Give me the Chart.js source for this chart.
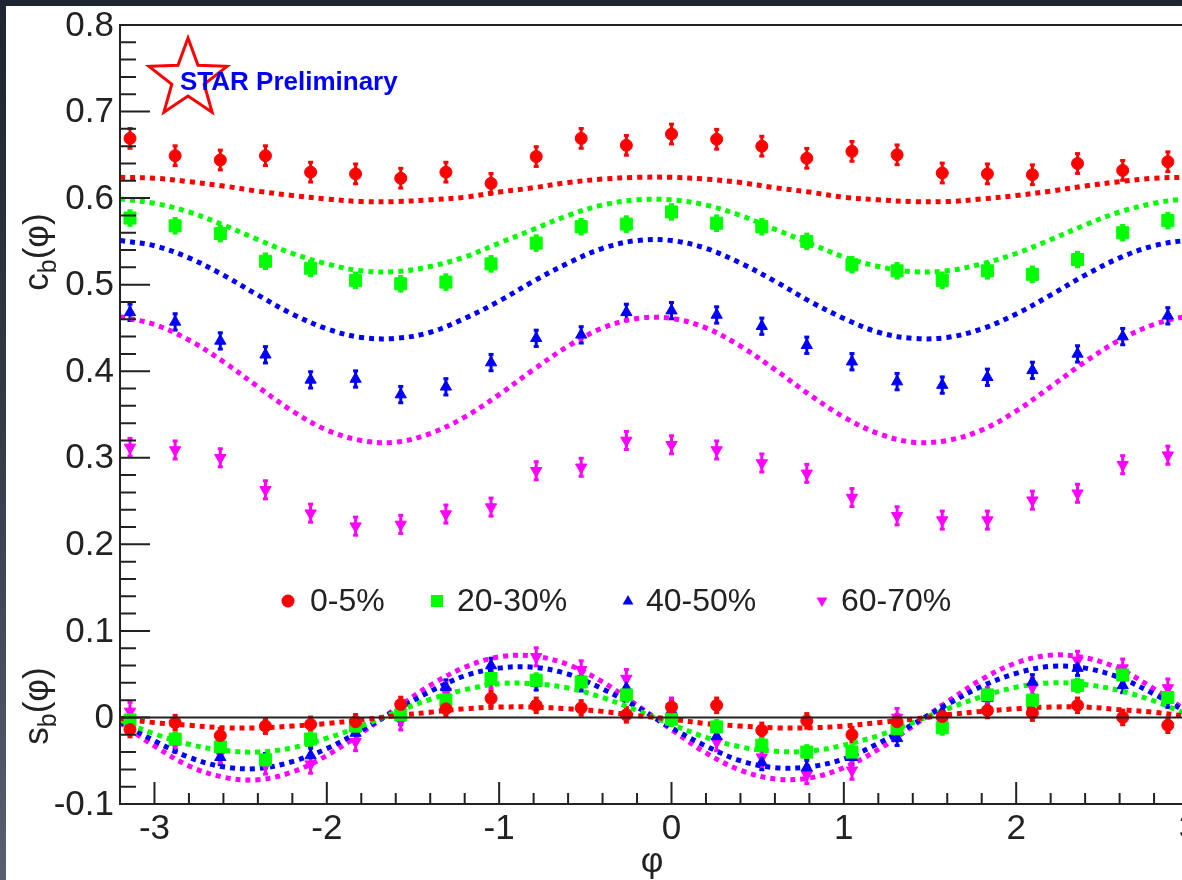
<!DOCTYPE html>
<html>
<head>
<meta charset="utf-8">
<script src="https://cdn.jsdelivr.net/npm/chart.js@4.4.1/dist/chart.umd.min.js"></script>
<style>
  html, body { margin: 0; padding: 0; width: 1182px; height: 880px; overflow: hidden; }
  body { background: linear-gradient(180deg, #1d2532 0%, #343c4a 50%, #586070 100%); }
  #box { position: absolute; left: 6px; top: 6px; width: 1240px; height: 874px; background: #fff; }
</style>
</head>
<body>
<div id="box"><canvas id="chart" width="1240" height="874"></canvas></div>
<script>
// measured points, phi bins of pi/12
var phi = [-3.142, -2.880, -2.618, -2.356, -2.094, -1.833, -1.571, -1.309, -1.047, -0.785, -0.524, -0.262,
           0.000, 0.262, 0.524, 0.785, 1.047, 1.309, 1.571, 1.833, 2.094, 2.356, 2.618, 2.880];

var cb05   = [0.669, 0.649, 0.644, 0.649, 0.630, 0.628, 0.623, 0.630, 0.617, 0.648, 0.669, 0.661,
              0.674, 0.668, 0.660, 0.646, 0.654, 0.650, 0.629, 0.628, 0.627, 0.640, 0.632, 0.642];
var cb2030 = [0.577, 0.568, 0.559, 0.527, 0.519, 0.505, 0.501, 0.503, 0.524, 0.548, 0.567, 0.570,
              0.584, 0.571, 0.567, 0.550, 0.523, 0.516, 0.505, 0.516, 0.512, 0.529, 0.560, 0.574];
var cb4050 = [0.468, 0.457, 0.435, 0.419, 0.390, 0.391, 0.373, 0.382, 0.410, 0.438, 0.442, 0.468,
              0.470, 0.465, 0.452, 0.430, 0.411, 0.388, 0.384, 0.393, 0.401, 0.420, 0.440, 0.464];
var cb6070 = [0.312, 0.309, 0.300, 0.263, 0.236, 0.221, 0.223, 0.235, 0.243, 0.285, 0.289, 0.320,
              0.315, 0.309, 0.294, 0.282, 0.254, 0.233, 0.228, 0.228, 0.251, 0.259, 0.292, 0.303];

var sb05   = [-0.014, -0.006, -0.021, -0.010, -0.008, -0.005, 0.015, 0.010, 0.022, 0.014, 0.011, 0.003,
              0.012, 0.014, -0.015, -0.004, -0.020, -0.005, 0.001, 0.008, 0.005, 0.014, 0.000, -0.009];
var sb2030 = [-0.003, -0.025, -0.034, -0.049, -0.025, -0.010, 0.003, 0.020, 0.045, 0.043, 0.041, 0.026,
              -0.002, -0.011, -0.032, -0.040, -0.040, -0.013, -0.012, 0.026, 0.020, 0.037, 0.049, 0.023];
var sb4050 = [-0.006, -0.028, -0.046, -0.050, -0.044, -0.018, 0.000, 0.035, 0.060, 0.040, 0.039, 0.034,
              0.008, -0.022, -0.052, -0.058, -0.046, -0.024, 0.006, 0.022, 0.041, 0.057, 0.037, 0.020];
var sb6070 = [0.007, -0.030, -0.042, -0.055, -0.054, -0.028, -0.004, 0.030, 0.044, 0.070, 0.055, 0.045,
              0.012, -0.028, -0.046, -0.066, -0.061, 0.000, -0.006, 0.024, 0.035, 0.066, 0.057, 0.034];

// error sizes per centrality
var errCb = [0.012, 0.009, 0.010, 0.011];
var errSb = [0.009, 0.008, 0.009, 0.011];

// fit curves
var fitPhi = [-3.2, -3.0, -2.8, -2.6, -2.4, -2.2, -2.0, -1.8, -1.6, -1.4, -1.2, -1.0, -0.8, -0.6, -0.4, -0.2,
              0.0, 0.2, 0.4, 0.6, 0.8, 1.0, 1.2, 1.4, 1.6, 1.8, 2.0, 2.2, 2.4, 2.6, 2.8, 3.0, 3.2];

var fitC05   = [0.624, 0.623, 0.619, 0.614, 0.608, 0.603, 0.599, 0.596, 0.596, 0.598, 0.601, 0.607, 0.612, 0.618, 0.622, 0.624,
                0.624, 0.622, 0.618, 0.612, 0.607, 0.601, 0.598, 0.596, 0.596, 0.599, 0.603, 0.608, 0.614, 0.619, 0.623, 0.624, 0.624];
var fitC2030 = [0.599, 0.594, 0.584, 0.569, 0.552, 0.536, 0.524, 0.516, 0.515, 0.521, 0.532, 0.548, 0.564, 0.580, 0.592, 0.598,
                0.598, 0.592, 0.580, 0.564, 0.548, 0.532, 0.521, 0.515, 0.516, 0.524, 0.536, 0.552, 0.569, 0.584, 0.594, 0.599, 0.597];
var fitC4050 = [0.551, 0.545, 0.531, 0.511, 0.488, 0.466, 0.449, 0.439, 0.438, 0.445, 0.461, 0.481, 0.504, 0.525, 0.542, 0.551,
                0.551, 0.542, 0.525, 0.504, 0.481, 0.461, 0.445, 0.438, 0.439, 0.449, 0.466, 0.488, 0.511, 0.531, 0.545, 0.551, 0.549];
var fitC6070 = [0.463, 0.454, 0.436, 0.411, 0.382, 0.354, 0.332, 0.320, 0.318, 0.328, 0.347, 0.373, 0.402, 0.429, 0.450, 0.461,
                0.461, 0.450, 0.429, 0.402, 0.373, 0.347, 0.328, 0.318, 0.320, 0.332, 0.354, 0.382, 0.411, 0.436, 0.454, 0.463, 0.459];

var fitS05   = [-0.001, -0.006, -0.009, -0.012, -0.012, -0.010, -0.007, -0.003, 0.002, 0.006, 0.010, 0.012, 0.012, 0.010, 0.007, 0.002,
                -0.002, -0.007, -0.010, -0.012, -0.012, -0.010, -0.006, -0.002, 0.003, 0.007, 0.010, 0.012, 0.012, 0.009, 0.006, 0.001, -0.004];
var fitS2030 = [-0.003, -0.019, -0.031, -0.038, -0.040, -0.035, -0.024, -0.010, 0.006, 0.021, 0.032, 0.039, 0.039, 0.034, 0.023, 0.008,
                -0.008, -0.023, -0.034, -0.039, -0.039, -0.032, -0.021, -0.006, 0.010, 0.024, 0.035, 0.040, 0.038, 0.031, 0.019, 0.003, -0.012];
var fitS4050 = [-0.005, -0.027, -0.046, -0.057, -0.059, -0.051, -0.036, -0.015, 0.008, 0.030, 0.048, 0.057, 0.058, 0.050, 0.033, 0.012,
                -0.012, -0.033, -0.050, -0.058, -0.057, -0.048, -0.030, -0.008, 0.015, 0.036, 0.051, 0.059, 0.057, 0.046, 0.027, 0.005, -0.018];
var fitS6070 = [-0.006, -0.033, -0.056, -0.069, -0.072, -0.063, -0.044, -0.018, 0.010, 0.037, 0.058, 0.070, 0.071, 0.061, 0.041, 0.014,
                -0.014, -0.041, -0.061, -0.071, -0.070, -0.058, -0.037, -0.010, 0.018, 0.044, 0.063, 0.072, 0.069, 0.056, 0.033, 0.006, -0.022];

var yTicks = [-0.1, 0, 0.1, 0.2, 0.3, 0.4, 0.5, 0.6, 0.7, 0.8];
var yTickLabels = ['-0.1', '0', '0.1', '0.2', '0.3', '0.4', '0.5', '0.6', '0.7', '0.8'];
var xTicks = [-3, -2, -1, 0, 1, 2, 3];
var xTickLabels = ['-3', '-2', '-1', '0', '1', '2', '3'];

var legendLabels = ['0-5%', '20-30%', '40-50%', '60-70%'];
var colors = ['#ff0000', '#00ff00', '#0000ff', '#ff00ff'];

var FONT = '"Liberation Sans", Arial, Helvetica, sans-serif';

function pts(xs, ys) {
  return xs.map(function (x, i) { return { x: x, y: ys[i] }; });
}

var markers = [
  { style: 'circle', r: 6, rot: 0 },
  { style: 'rect', r: 8.5, rot: 0 },
  { style: 'triangle', r: 6.5, rot: 0 },
  { style: 'triangle', r: 6.5, rot: 180 }
];

var cbSets = [cb05, cb2030, cb4050, cb6070];
var sbSets = [sb05, sb2030, sb4050, sb6070];
var fitCSets = [fitC05, fitC2030, fitC4050, fitC6070];
var fitSSets = [fitS05, fitS2030, fitS4050, fitS6070];

var datasets = [];
// points first so they end up on top
for (i = 0; i < 4; i++) {
  [[cbSets[i], errCb[i]], [sbSets[i], errSb[i]]].forEach(function (s) {
    datasets.push({
      data: pts(phi, s[0]),
      err: s[1],
      showLine: false,
      pointStyle: markers[i].style,
      pointRadius: markers[i].r,
      pointRotation: markers[i].rot,
      pointBorderWidth: 1,
      borderColor: colors[i],
      backgroundColor: colors[i]
    });
  });
}
for (i = 0; i < 4; i++) {
  [fitCSets[i], fitSSets[i]].forEach(function (f) {
    datasets.push({
      data: pts(fitPhi, f),
      showLine: true,
      pointRadius: 0,
      borderColor: colors[i],
      borderWidth: 5,
      borderDash: [5, 5],
      tension: 0.35,
      fill: false
    });
  });
}

// error bars under the markers
var errorBars = {
  id: 'errorBars',
  beforeDatasetsDraw: function (chart) {
    var ctx = chart.ctx, xs = chart.scales.x, ys = chart.scales.y;
    ctx.save();
    chart.data.datasets.forEach(function (ds) {
      if (ds.err === undefined) return;
      ctx.strokeStyle = ds.borderColor;
      ctx.fillStyle = ds.borderColor;
      ctx.lineWidth = 3;
      ds.data.forEach(function (p) {
        var px = xs.getPixelForValue(p.x);
        var y1 = ys.getPixelForValue(p.y - ds.err);
        var y2 = ys.getPixelForValue(p.y + ds.err);
        ctx.beginPath();
        ctx.moveTo(px, y1);
        ctx.lineTo(px, y2);
        ctx.stroke();
        ctx.fillRect(px - 2.5, y1 - 2, 5, 3);
        ctx.fillRect(px - 2.5, y2 - 1, 5, 3);
      });
    });
    ctx.restore();
  }
};

function drawMarker(ctx, kind, x, y, r, color) {
  ctx.fillStyle = color;
  ctx.beginPath();
  if (kind === 0) {
    ctx.arc(x, y, r, 0, Math.PI * 2);
  } else if (kind === 1) {
    ctx.rect(x - r, y - r, 2 * r, 2 * r);
  } else if (kind === 2) {
    ctx.moveTo(x, y - r);
    ctx.lineTo(x + r * 0.9, y + r * 0.6);
    ctx.lineTo(x - r * 0.9, y + r * 0.6);
  } else {
    ctx.moveTo(x, y + r);
    ctx.lineTo(x + r * 0.9, y - r * 0.6);
    ctx.lineTo(x - r * 0.9, y - r * 0.6);
  }
  ctx.closePath();
  ctx.fill();
}

function vTitle(ctx, base, sub, rest, x, yc) {
  var big = '35px ' + FONT, small = '25px ' + FONT;
  ctx.save();
  ctx.translate(x, yc);
  ctx.rotate(-Math.PI / 2);
  ctx.font = big;
  var w1 = ctx.measureText(base).width, w3 = ctx.measureText(rest).width;
  ctx.font = small;
  var w2 = ctx.measureText(sub).width;
  var x0 = -(w1 + w2 + w3) / 2;
  ctx.textAlign = 'left';
  ctx.textBaseline = 'alphabetic';
  ctx.fillStyle = '#222';
  ctx.font = big;
  ctx.fillText(base, x0, 0);
  ctx.font = small;
  ctx.fillText(sub, x0 + w1, 8);
  ctx.font = big;
  ctx.fillText(rest, x0 + w1 + w2, 0);
  ctx.restore();
}

// frame, inward ticks, labels, legend, logo
var frame = {
  id: 'frame',
  afterDatasetsDraw: function (chart) {
    var ctx = chart.ctx, a = chart.chartArea, xs = chart.scales.x, ys = chart.scales.y;
    var y0 = ys.getPixelForValue(0);
    ctx.save();
    ctx.strokeStyle = '#222';
    ctx.lineWidth = 2;

    // zero line
    ctx.beginPath();
    ctx.moveTo(a.left, y0);
    ctx.lineTo(a.right, y0);
    ctx.stroke();

    // box
    ctx.beginPath();
    ctx.moveTo(a.right, a.top);
    ctx.lineTo(a.left, a.top);
    ctx.lineTo(a.left, a.bottom);
    ctx.lineTo(a.right, a.bottom);
    ctx.stroke();

    // y ticks
    ctx.beginPath();
    for (var v = -0.1; v < 0.8001; v += 0.02) {
      var py = ys.getPixelForValue(v);
      var major = Math.abs(v * 10 - Math.round(v * 10)) < 1e-6;
      ctx.moveTo(a.left, py);
      ctx.lineTo(a.left + (major ? 30 : 16), py);
    }
    // x ticks
    for (var u = -3.2; u < 3.2001; u += 0.2) {
      var px = xs.getPixelForValue(u);
      var majorX = Math.abs(u - Math.round(u)) < 1e-6;
      ctx.moveTo(px, a.bottom);
      ctx.lineTo(px, a.bottom - (majorX ? 22 : 11));
    }
    ctx.stroke();

    // tick labels
    ctx.fillStyle = '#222';
    ctx.font = '35px ' + FONT;
    ctx.textAlign = 'right';
    ctx.textBaseline = 'middle';
    yTicks.forEach(function (t, i) {
      ctx.fillText(yTickLabels[i], a.left - 6, ys.getPixelForValue(t) + 1);
    });
    ctx.textAlign = 'center';
    xTicks.forEach(function (t, i) {
      ctx.fillText(xTickLabels[i], xs.getPixelForValue(t), a.bottom + 25);
    });

    // axis titles
    ctx.fillText('\u03c6', 646, 856);
    vTitle(ctx, 'c', 'b', '(\u03c6)', 42, 246);
    vTitle(ctx, 's', 'b', '(\u03c6)', 42, 700);

    // legend
    var lx = [282, 431, 622, 816];
    var tx = [304, 451, 640, 835];
    var ly = 595;
    ctx.font = '32px ' + FONT;
    ctx.textAlign = 'left';
    legendLabels.forEach(function (lab, i) {
      drawMarker(ctx, i, lx[i], ly, i === 0 ? 6.5 : 6, colors[i]);
      ctx.fillStyle = '#222';
      ctx.fillText(lab, tx[i], ly + 1);
    });

    // STAR logo
    var cx = 182, cy = 73, R = 41, r = 17;
    ctx.beginPath();
    for (var k = 0; k < 10; k++) {
      var ang = -Math.PI / 2 + k * Math.PI / 5;
      var rad = k % 2 === 0 ? R : r;
      var sx = cx + rad * Math.cos(ang), sy = cy + rad * Math.sin(ang);
      if (k === 0) ctx.moveTo(sx, sy); else ctx.lineTo(sx, sy);
    }
    ctx.closePath();
    ctx.fillStyle = '#fff';
    ctx.fill();
    ctx.strokeStyle = '#ff0000';
    ctx.lineWidth = 3;
    ctx.lineJoin = 'miter';
    ctx.stroke();
    ctx.fillStyle = '#0000ff';
    ctx.font = 'bold 26px ' + FONT;
    ctx.textBaseline = 'alphabetic';
    ctx.fillText('STAR Preliminary', 174, 84);

    ctx.restore();
  }
};

new Chart(document.getElementById('chart'), {
  type: 'scatter',
  data: { datasets: datasets },
  options: {
    responsive: false,
    animation: false,
    layout: { padding: { left: 114, top: 19, right: 23, bottom: 76 } },
    scales: {
      x: { type: 'linear', min: -3.2, max: 3.2, display: false },
      y: { type: 'linear', min: -0.1, max: 0.8, display: false }
    },
    plugins: {
      legend: { display: false },
      tooltip: { enabled: false }
    }
  },
  plugins: [errorBars, frame]
});
</script>
</body>
</html>
